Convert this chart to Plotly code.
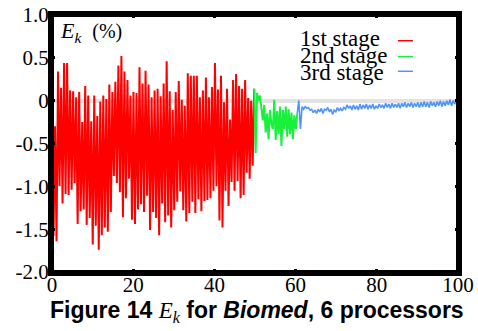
import numpy as np
import plotly.graph_objects as go

# ---- data ----
stage_names = ["1st stage", "2nd stage", "3rd stage"]
stage_colors = ["#ff0000", "#19f03c", "#4d94ff"]
stage_bounds = [0.0, 49.8, 60.4, 100.0]

red_vals = [-0.18, -1.58, -0.30, -1.64,
    0.34, -1.00, 0.15, -1.20, 0.44, -1.09, 0.44, -1.10, 0.12, -1.04, 0.11, -0.96, 0.04, -1.44, 0.10, -1.29,
    -0.25, -1.27, 0.17, -1.45, 0.06, -1.37, -0.24, -1.68, 0.06, -1.46, -0.18, -1.74, -0.01, -1.57, 0.06, -1.48,
    0.02, -1.53, 0.19, -1.30, 0.10, -0.88, 0.22, -0.96, 0.41, -1.07, 0.52, -1.36, 0.34, -1.14, 0.24, -0.91,
    0.06, -1.39, 0.10, -1.44, 0.09, -1.27, 0.39, -1.21, 0.20, -1.30, 0.35, -1.11, 0.19, -1.51, 0.04, -1.30,
    0.12, -1.37, 0.14, -1.57, 0.05, -1.20, 0.20, -1.42, 0.46, -1.34, 0.11, -1.48,
    -0.11, -1.28, 0.10, -1.18, 0.23, -1.06, 0.01, -1.28, -0.06, -1.41, 0.32, -1.31, 0.29, -1.18, 0.29, -1.31,
    0.29, -1.15, 0.04, -1.29, 0.12, -1.17, 0.27, -1.16,
    0.04, -1.14, 0.16, -1.05, 0.44, -1.00, 0.13, -1.40, 0.29, -1.48, -0.02, -1.05, 0.14, -1.23, -0.22, -0.95,
    0.24, -1.05, 0.31, -0.94, 0.17, -1.14, 0.14, -1.10, 0.24, -0.84, 0.03, -0.91, 0.00, -0.76, 0.14]

green_vals = [0.14, -0.61, 0.09, 0.00, 0.06, -0.11, -0.23, -0.05, -0.37, -0.15, -0.45, -0.11, -0.27, -0.33,
    0.01, -0.46, -0.12, -0.39, -0.07, -0.53, -0.11, -0.33, -0.07, -0.42, -0.10, -0.39, -0.14, -0.45, -0.17,
    -0.33, -0.15]

blue_vals = [-0.15, 0.00, -0.33, -0.07, -0.10, -0.07, -0.09, -0.08, -0.11, -0.10, -0.14, -0.11, -0.15, -0.10,
    -0.13, -0.09, -0.15, -0.10, -0.11, -0.08, -0.13, -0.10, -0.16, -0.11, -0.13, -0.08, -0.12, -0.09, -0.12,
    -0.08, -0.10, -0.05, -0.09, -0.06, -0.11, -0.05, -0.10, -0.06, -0.11,
    -0.04, -0.10, -0.05, -0.09, -0.04, -0.10, -0.05, -0.09, -0.04, -0.10, -0.06, -0.09, -0.04, -0.08, -0.05,
    -0.09, -0.03, -0.08, -0.04, -0.09, -0.03, -0.08, -0.04, -0.08, -0.03, -0.09, -0.03, -0.07, -0.02, -0.08,
    -0.03, -0.07, -0.02, -0.08, -0.03, -0.07, -0.02, -0.08, -0.02, -0.07, -0.01, -0.07, -0.02, -0.08, -0.01,
    -0.06, -0.02, -0.07, -0.01, -0.06, 0.00, -0.07, -0.01, -0.06, 0.00, -0.05, 0.01, -0.06, 0.00, -0.04,
    0.02, -0.03]

x_ticks = [0, 20, 40, 60, 80, 100]
y_ticks = [1.0, 0.5, 0.0, -0.5, -1.0, -1.5, -2.0]
y_ticktext = ["1.0", "0.5", "0", "-0.5", "-1.0", "-1.5", "-2.0"]

series = [red_vals, green_vals, blue_vals]
widths = [2, 2, 1.6]

fig = go.Figure()
for i, vals in enumerate(series):
    xs = np.linspace(stage_bounds[i], stage_bounds[i + 1], len(vals))
    fig.add_trace(go.Scatter(x=xs, y=vals, mode="lines", name=stage_names[i],
                             line=dict(color=stage_colors[i], width=widths[i]), showlegend=False))

serif = "Liberation Serif, Times New Roman, serif"
axis_common = dict(showline=True, linecolor="black", linewidth=4, mirror="ticks",
                   ticks="inside", ticklen=3, tickwidth=3, tickcolor="black", automargin=False,
                   ticklabeloverflow="allow",
                   showgrid=False, tickfont=dict(family=serif, size=21, color="black"))

fig.update_layout(
    template="none",
    width=478, height=331,
    margin=dict(l=52, r=20, t=15, b=59, autoexpand=False),
    paper_bgcolor="white", plot_bgcolor="white",
    xaxis=dict(range=[0, 100], tickvals=x_ticks, zeroline=False, ticklabelstandoff=-9, **axis_common),
    yaxis=dict(range=[-2, 1], tickvals=y_ticks, ticktext=y_ticktext, ticklabelstandoff=-5,
               zeroline=True, zerolinecolor="#e2e2e2", zerolinewidth=4, **axis_common),
)

# frame (drawn on top, like the reference's heavy box)
fig.add_shape(type="rect", xref="x domain", yref="y domain", x0=0, x1=1, y0=0, y1=1,
              line=dict(color="black", width=4), layer="above")

# y-axis label inside the plot
fig.add_annotation(xref="paper", yref="paper", x=0.016, y=0.935, xanchor="left", yanchor="middle",
                   text="<i>E</i><sub><i>k</i></sub>  <span style='font-size:20px'>(%)</span>",
                   showarrow=False, font=dict(family=serif, size=22, color="black"))

# legend (text left, line sample on the right)
leg_y = [0.907, 0.842, 0.778]
line_y = [0.900, 0.838, 0.781]
for i in range(3):
    fig.add_annotation(xref="paper", yref="paper", x=0.606, y=leg_y[i], xanchor="left", yanchor="middle",
                       text=stage_names[i], showarrow=False,
                       font=dict(family=serif, size=23, color="black"))
    fig.add_shape(type="line", xref="paper", yref="paper", x0=0.852, x1=0.889,
                  y0=line_y[i], y1=line_y[i],
                  line=dict(color=stage_colors[i], width=1.5))

# caption
fig.add_annotation(xref="paper", yref="paper", x=0.505, y=-0.155, xanchor="center", yanchor="middle",
                   text="<b>Figure 14 </b><span style='font-family:Liberation Serif'><i>E</i><sub><i>k</i></sub></span>"
                        "<b> for <i>Biomed</i>, 6 processors</b>",
                   showarrow=False, font=dict(family="Liberation Sans, Arial, sans-serif", size=23, color="black"))

fig.write_html("out.html", config={"displayModeBar": False},
               post_script="document.body.style.margin='0px';")
